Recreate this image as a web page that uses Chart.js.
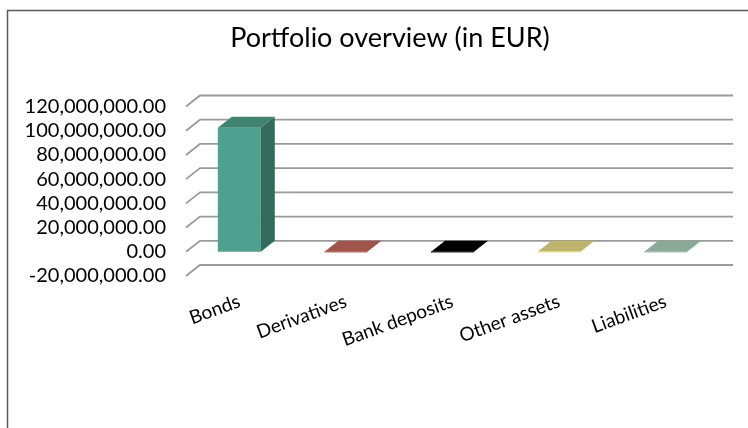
<!DOCTYPE html>
<html>
<head>
<meta charset="utf-8">
<script src="https://cdn.jsdelivr.net/npm/chart.js@4/dist/chart.umd.min.js"></script>
<style>
  html,body{margin:0;padding:0;background:#fff;}
  #wrap{width:748px;height:428px;position:relative;}
</style>
</head>
<body>
<div id="wrap"><canvas id="chart" width="748" height="428"></canvas></div>
<script>
'use strict';

// data
const categories = ['Bonds', 'Derivatives', 'Bank deposits', 'Other assets', 'Liabilities'];
const values = [102500000, 0, 0, 0, 0];
const yTicks = { min: -20000000, max: 120000000, step: 20000000 };

// 3d look
const DX = 14, DY = 11;
const front = ['#4fa08f', '#a0554c', '#000000', '#bfb46f', '#8aa999'];
const topC  = ['#3f8370', '#a0554c', '#000000', '#bfb46f', '#8aa999'];
const side  = ['#326b5c', '#86463f', '#000000', '#a59a5c', '#768f82'];
const edge  = ['#4fa08f', '#b86a60', '#222222', '#ede08a', '#a5bfb2'];

const fmt = v => v.toLocaleString('en-US', { minimumFractionDigits: 2, maximumFractionDigits: 2 });

const frame = {
  id: 'frame',
  beforeDraw(c) {
    const ctx = c.ctx;
    ctx.save();
    ctx.strokeStyle = '#5a5a5a';
    ctx.lineWidth = 1.5;
    ctx.beginPath();
    ctx.moveTo(7.5, 428); ctx.lineTo(7.5, 10.5); ctx.lineTo(748, 10.5);
    ctx.stroke();
    ctx.restore();
  }
};

const wall = {
  id: 'wall',
  beforeDatasetsDraw(c) {
    const ctx = c.ctx, y = c.scales.y, a = c.chartArea;
    ctx.save();
    ctx.strokeStyle = '#9a9a9a';
    ctx.lineWidth = 1.8;
    y.ticks.forEach(t => {
      const py = y.getPixelForValue(t.value);
      ctx.beginPath();
      ctx.moveTo(a.left, py);
      ctx.lineTo(a.left + DX, py - DY);
      ctx.lineTo(a.right + DX, py - DY);
      ctx.stroke();
    });
    ctx.restore();
  }
};

const box3d = {
  id: 'box3d',
  afterDatasetsDraw(c) {
    const ctx = c.ctx;
    c.getDatasetMeta(0).data.forEach((b, i) => {
      const p = b.getProps(['x', 'y', 'base', 'width'], true);
      const l = p.x - p.width / 2, r = p.x + p.width / 2;
      const t = Math.min(p.y, p.base), bt = Math.max(p.y, p.base);
      ctx.save();
      if (bt - t > 0.5) {
        ctx.fillStyle = side[i];
        ctx.beginPath();
        ctx.moveTo(r, t); ctx.lineTo(r + DX, t - DY); ctx.lineTo(r + DX, bt - DY); ctx.lineTo(r, bt);
        ctx.closePath(); ctx.fill();
      }
      ctx.fillStyle = topC[i];
      ctx.beginPath();
      ctx.moveTo(l, t); ctx.lineTo(l + DX, t - DY); ctx.lineTo(r + DX, t - DY); ctx.lineTo(r, t);
      ctx.closePath(); ctx.fill();
      if (bt - t <= 0.5) {
        ctx.strokeStyle = edge[i];
        ctx.lineWidth = 1.2;
        ctx.beginPath(); ctx.moveTo(l, t); ctx.lineTo(r, t); ctx.stroke();
      }
      ctx.restore();
    });
  }
};

new Chart(document.getElementById('chart'), {
  type: 'bar',
  data: {
    labels: categories,
    datasets: [{ data: values, backgroundColor: front, borderWidth: 0, barPercentage: 0.403, categoryPercentage: 1 }]
  },
  plugins: [frame, wall, box3d],
  options: {
    responsive: false,
    animation: false,
    // negative right padding + empty right axis: title box spans 0..780 so it sits where the original has it
    layout: { padding: { left: 0, right: -32, top: 0, bottom: 0 } },
    plugins: {
      legend: { display: false },
      tooltip: { enabled: false },
      title: {
        display: true,
        text: 'Portfolio overview (in EUR)',
        color: '#000',
        font: { family: 'Lato', size: 27, weight: 'normal', lineHeight: 1.2 },
        padding: { top: 22.2, bottom: 51.9 }
      }
    },
    scales: {
      x: {
        grid: { display: false, drawTicks: false },
        border: { display: false },
        ticks: { color: '#000', font: { family: 'Lato', size: 19 }, minRotation: 20, maxRotation: 20, padding: 14, autoSkip: false },
        afterFit: s => { s.height = 152; }
      },
      y: {
        min: yTicks.min, max: yTicks.max,
        grid: { display: false, drawTicks: false },
        border: { display: false },
        ticks: { stepSize: yTicks.step, autoSkip: false, color: '#000', font: { family: 'Lato', size: 20 }, padding: 20, callback: v => fmt(v) },
        afterFit: s => { s.width = 186; }
      },
      y2: {
        position: 'right',
        min: yTicks.min, max: yTicks.max,
        grid: { display: false, drawTicks: false },
        border: { display: false },
        ticks: { display: false },
        afterFit: s => { s.width = 61; }
      }
    }
  }
});
</script>
</body>
</html>
